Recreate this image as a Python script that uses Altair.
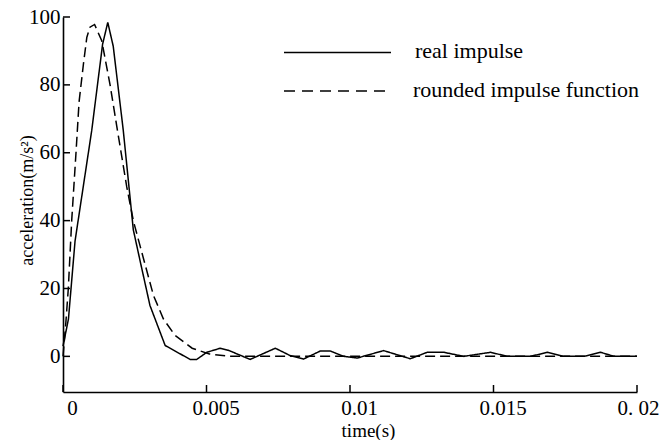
import altair as alt
import pandas as pd

# ---- data ----
real_t = [0.0, 0.00019, 0.00042, 0.0010, 0.00138, 0.00156, 0.00175, 0.0021, 0.00245,
          0.00269, 0.00303, 0.00356, 0.00443, 0.00466, 0.00501, 0.00548, 0.00576,
          0.00652, 0.0074, 0.00792, 0.00838, 0.00897, 0.00931, 0.00978, 0.01025,
          0.01117, 0.0121, 0.01269, 0.01327, 0.01396, 0.0149, 0.01548, 0.01629,
          0.01687, 0.01745, 0.01815, 0.01873, 0.0192, 0.02]
real_a = [3.0, 11.0, 34.0, 66.5, 92.0, 98.4, 91.4, 66.6, 37.3,
          28.0, 15.0, 3.2, -0.9, -0.9, 1.2, 2.4, 1.8,
          -0.9, 2.4, 0.2, -0.8, 1.6, 1.6, 0.0, -0.5,
          1.7, -0.7, 1.2, 1.2, 0.0, 1.2, 0.0, 0.0,
          1.2, 0.0, 0.0, 1.2, 0.0, 0.0]

round_t = [0.0, 0.0001, 0.000185, 0.000303, 0.000453, 0.00056, 0.00071, 0.00083,
           0.00094, 0.0011, 0.00135, 0.00164, 0.00187, 0.00222, 0.00245, 0.00269,
           0.00315, 0.0035, 0.0039, 0.0045, 0.0051, 0.0058, 0.02]
round_a = [0.0, 10.0, 20.0, 40.0, 60.0, 75.0, 86.0, 94.0,
           97.0, 97.8, 93.0, 80.0, 68.0, 50.0, 40.0, 32.4,
           18.0, 11.0, 6.2, 2.4, 0.7, 0.0, 0.0]

series_names = ["real impulse", "rounded impulse function"]
x_ticks = [0, 0.005, 0.01, 0.015, 0.02]
x_tick_labels = ["0", "0.005", "0.01", "0.015", "0. 02"]
y_ticks = [0, 20, 40, 60, 80, 100]

# ---- layout / style ----
W, H = 574, 375
FONT = "Liberation Serif"
FS = 21

df = pd.concat([
    pd.DataFrame({"t": real_t, "a": real_a, "series": series_names[0]}),
    pd.DataFrame({"t": round_t, "a": round_a, "series": series_names[1]}),
])

label_expr = " : ".join(
    f"datum.value == {v} ? '{l}'" for v, l in zip(x_ticks, x_tick_labels)
) + " : datum.label"

x_enc = alt.X(
    "t:Q",
    scale=alt.Scale(domain=[0, 0.02], nice=False, zero=False),
    axis=alt.Axis(
        values=x_ticks, labelExpr=label_expr, ticks=False, tickSize=0, grid=False,
        title="time(s)", titleX=305, titleY=44, titleBaseline="alphabetic",
        titleAlign="center", titleFont=FONT, titleFontSize=19, titleFontWeight="normal",
        titleColor="black", labelFont=FONT, labelFontSize=FS, labelColor="black",
        labelOffset={"condition": {"test": f"datum.value == {x_ticks[-1]}", "value": 1}, "value": 9},
        labelPadding=5, domainColor="black", domainWidth=1.6,
        labelFlush=False, labelOverlap=False,
    ),
)
y_enc = alt.Y(
    "a:Q",
    scale=alt.Scale(domain=[-10.5, 100], nice=False, zero=False),
    axis=alt.Axis(
        values=y_ticks, format="d", ticks=False, tickSize=0, grid=False,
        title="acceleration(m/s²)", titleX=-36, titleY=183, titleAngle=-90,
        titleAlign="center", titleBaseline="middle", titleFont=FONT, titleFontSize=18,
        titleFontWeight="normal", titleColor="black",
        labelFont=FONT, labelFontSize=FS, labelColor="black", labelPadding=3,
        domainColor="black", domainWidth=1.6, labelFlush=False, labelOverlap=False,
    ),
)

lines = alt.Chart(df).mark_line(color="black", strokeWidth=1.5).encode(
    x=x_enc,
    y=y_enc,
    strokeDash=alt.StrokeDash(
        "series:N",
        scale=alt.Scale(domain=series_names, range=[[1, 0], [10, 5]]),
        legend=None,
    ),
)

xt = alt.Chart(pd.DataFrame({"t": x_ticks})).mark_rule(color="black", strokeWidth=1.5).encode(
    x=x_enc, y=alt.value(H), y2=alt.value(H - 7)
)
yt = alt.Chart(pd.DataFrame({"a": y_ticks})).mark_rule(color="black", strokeWidth=1.5).encode(
    y=y_enc, x=alt.value(0), x2=alt.value(7)
)

leg1_line = alt.Chart(pd.DataFrame({"s": [series_names[0]]})).mark_rule(
    color="black", strokeWidth=1.5
).encode(x=alt.value(221), x2=alt.value(328), y=alt.value(35.5))
leg2_line = alt.Chart(pd.DataFrame({"s": [series_names[1]]})).mark_rule(
    color="black", strokeWidth=1.5, strokeDash=[11, 7]
).encode(x=alt.value(221), x2=alt.value(328), y=alt.value(74))
leg1_text = alt.Chart(pd.DataFrame({"s": [series_names[0]]})).mark_text(
    align="left", baseline="alphabetic", font=FONT, fontSize=22, color="black"
).encode(text="s:N", x=alt.value(352), y=alt.value(41))
leg2_text = alt.Chart(pd.DataFrame({"s": [series_names[1]]})).mark_text(
    align="left", baseline="alphabetic", font=FONT, fontSize=22, color="black"
).encode(text="s:N", x=alt.value(350), y=alt.value(79.5))

chart = alt.layer(
    lines, xt, yt, leg1_line, leg2_line, leg1_text, leg2_text
).properties(
    width=W, height=H,
    autosize=alt.AutoSizeParams(type="none"),
    padding={"left": 55, "top": 9, "right": 23, "bottom": 48},
    background="white",
).configure_view(stroke=None)

chart.save("out.html", embed_options={"renderer": "svg", "actions": False})
